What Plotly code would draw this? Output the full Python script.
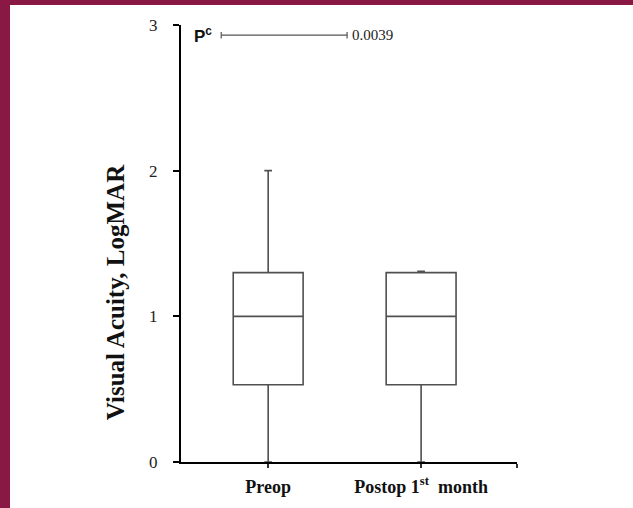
import plotly.graph_objects as go

categories = ["<b>Preop</b>", "<b>Postop 1<sup>st</sup>  month</b>"]
cat_pos = [0, 1]
q1 = [0.53, 0.53]
median = [1.0, 1.0]
q3 = [1.3, 1.3]
lowerfence = [0.0, 0.0]
upperfence = [2.0, 1.31]
y_ticks = [0, 1, 2, 3]
p_value = "0.0039"
bracket_x = [-0.307, 0.516]
bracket_y = 2.93

SERIF = "Liberation Serif, Times New Roman, serif"
SANS = "Liberation Sans, Arial, sans-serif"
MAROON = "#8A1844"
BOXLINE = "#505050"

fig = go.Figure()
for i in range(len(categories)):
    fig.add_trace(go.Box(
        x=[cat_pos[i]], q1=[q1[i]], median=[median[i]], q3=[q3[i]],
        lowerfence=[lowerfence[i]], upperfence=[upperfence[i]],
        width=0.457, whiskerwidth=0.11, fillcolor="white",
        line=dict(color=BOXLINE, width=1.6), boxpoints=False,
        showlegend=False, hoverinfo="skip",
    ))

# significance bracket
fig.add_shape(type="line", x0=bracket_x[0], x1=bracket_x[1], y0=bracket_y, y1=bracket_y,
              line=dict(color="#555555", width=1.2))
for bx in bracket_x:
    fig.add_shape(type="line", x0=bx, x1=bx, y0=bracket_y - 0.022, y1=bracket_y + 0.022,
                  line=dict(color="#555555", width=1.2))
fig.add_annotation(x=bracket_x[1] + 0.02, y=bracket_y, text=p_value, showarrow=False,
                   xanchor="left", yanchor="middle", font=dict(family=SERIF, size=15, color="#222"))
fig.add_annotation(x=0.033, y=0.976, xref="paper", yref="paper",
                   text="<b>P<sup>c</sup></b>", showarrow=False, xanchor="left", yanchor="middle",
                   font=dict(family=SANS, size=17, color="#111"))

# y axis title
fig.add_annotation(x=-0.196, y=0.389, xref="paper", yref="paper",
                   text="<b>Visual Acuity, LogMAR</b>", showarrow=False, textangle=-90,
                   xanchor="center", yanchor="middle",
                   font=dict(family=SERIF, size=25, color="#111"))

# maroon frame (left and top bands)
fig.add_shape(type="rect", xref="paper", yref="paper", x0=-0.56, x1=-0.5089, y0=-0.2, y1=1.1,
              fillcolor=MAROON, line_width=0, layer="below")
fig.add_shape(type="rect", xref="paper", yref="paper", x0=-0.56, x1=1.4, y0=1.0458, y1=1.1,
              fillcolor=MAROON, line_width=0, layer="below")

fig.update_layout(
    width=633, height=508,
    margin=dict(l=181, r=116, t=25, b=46),
    paper_bgcolor="white", plot_bgcolor="white",
    xaxis=dict(
        range=[-0.57, 1.627], tickvals=cat_pos + [1.625], ticktext=categories + [""],
        showline=True, linecolor="black", linewidth=2, showgrid=False, zeroline=False,
        ticks="outside", ticklen=4, tickwidth=1.5, tickcolor="#333",
        tickfont=dict(family=SERIF, size=18, color="#111"),
        ticklabelstandoff=3, automargin=False,
    ),
    yaxis=dict(
        range=[0, 3], tickvals=y_ticks,
        showline=True, linecolor="black", linewidth=2, showgrid=False, zeroline=False,
        ticks="outside", ticklen=6, tickwidth=2, tickcolor="black",
        tickfont=dict(family=SERIF, size=17, color="#222"),
        ticklabelstandoff=12, automargin=False,
    ),
)

fig.write_html("out.html", config={"displayModeBar": False},
               post_script="document.body.style.margin='0';document.body.style.overflow='hidden';")
